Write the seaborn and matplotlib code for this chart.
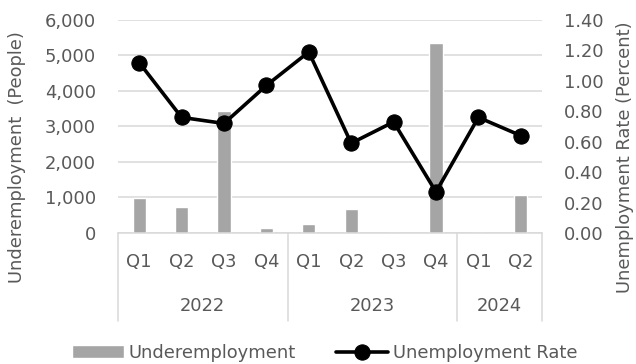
import matplotlib
matplotlib.use("Agg")
import matplotlib.pyplot as plt
import matplotlib.transforms as mtransforms
import seaborn as sns
import pandas as pd
import numpy as np

quarters = ["Q1", "Q2", "Q3", "Q4", "Q1", "Q2", "Q3", "Q4", "Q1", "Q2"]
years = ["2022", "2022", "2022", "2022", "2023", "2023", "2023", "2023", "2024", "2024"]
underemployment = [980, 740, 3440, 150, 260, 690, 0, 5360, 0, 1070]
unemployment_rate = [1.12, 0.76, 0.72, 0.97, 1.19, 0.59, 0.73, 0.27, 0.76, 0.64]
left_ticks = [0, 1000, 2000, 3000, 4000, 5000, 6000]
right_ticks = [0.0, 0.2, 0.4, 0.6, 0.8, 1.0, 1.2, 1.4]

sns.set_theme(style="white")
plt.rcParams["font.family"] = ["DejaVu Sans"]

TXT = "#595959"
GRID = "#d9d9d9"
FS = 12.9

df = pd.DataFrame({
    "cat": [f"{y}-{q}" for y, q in zip(years, quarters)],
    "under": underemployment,
    "rate": unemployment_rate,
    "pos": np.arange(len(quarters)),
})

fig = plt.figure(figsize=(6.36, 3.64), dpi=100)
W, H = 636, 364
ax = fig.add_axes([118 / W, 1 - 233 / H, (542 - 118) / W, (233 - 20) / H])

sns.barplot(data=df, x="cat", y="under", color="#a5a5a5", width=0.31,
            saturation=1, ax=ax, label="Underemployment", zorder=2)
if ax.get_legend() is not None:
    ax.get_legend().remove()
ax.set_xlim(-0.5, len(quarters) - 0.5)
ax.set_ylim(0, 6000)
ax.set_yticks(left_ticks)
ax.set_yticklabels([f"{v:,}" for v in left_ticks])
ax.yaxis.grid(True, color=GRID, linewidth=1.1, zorder=0)
ax.set_axisbelow(True)
for s in ["top", "left", "right"]:
    ax.spines[s].set_visible(False)
ax.spines["bottom"].set_color(GRID)
ax.spines["bottom"].set_linewidth(1.1)
ax.set_xticks([])
ax.set_xlabel("")
ax.set_ylabel("")
ax.tick_params(axis="y", length=0, pad=16, labelsize=FS, labelcolor=TXT)

ax2 = ax.twinx()
sns.lineplot(data=df, x="pos", y="rate", color="black", linewidth=2.6,
             marker="o", markersize=11.5, markeredgecolor="black",
             ax=ax2, label="Unemployment Rate", legend=False, zorder=3)
if ax2.get_legend() is not None:
    ax2.get_legend().remove()
ax2.set_xlim(-0.5, len(quarters) - 0.5)
ax2.set_ylim(0, 1.4)
ax2.set_yticks(right_ticks)
ax2.set_yticklabels([f"{v:.2f}" for v in right_ticks])
for s in ["top", "left", "right", "bottom"]:
    ax2.spines[s].set_visible(False)
ax2.grid(False)
ax2.set_xlabel("")
ax2.set_ylabel("")
ax2.tick_params(axis="y", length=0, pad=16, labelsize=FS, labelcolor=TXT)

# multi-level category axis
trans = mtransforms.blended_transform_factory(ax.transData, fig.transFigure)
def fy(py):
    return 1 - py / H
for i, q in enumerate(quarters):
    ax.text(i, fy(262), q, transform=trans, ha="center", va="center",
            fontsize=FS, color=TXT, clip_on=False)
groups = []
for i, y in enumerate(years):
    if not groups or groups[-1][0] != y:
        groups.append([y, i, i])
    else:
        groups[-1][2] = i
bounds = [-0.5] + [g[2] + 0.5 for g in groups]
for b in bounds:
    ax.plot([b, b], [fy(233), fy(321)], transform=trans, color=GRID,
            linewidth=1.1, clip_on=False)
for y, a, b in groups:
    ax.text((a + b) / 2, fy(306), y, transform=trans, ha="center", va="center",
            fontsize=FS, color=TXT, clip_on=False)

fig.text(17 / W, fy(157), "Underemployment  (People)", rotation=90,
         ha="center", va="center", fontsize=FS, color=TXT)
fig.text(625 / W, fy(157), "Unemployment Rate (Percent)", rotation=90,
         ha="center", va="center", fontsize=FS, color=TXT)

h1, l1 = ax.get_legend_handles_labels()
h2, l2 = ax2.get_legend_handles_labels()
for h in h2:
    h.set_markersize(11)
leg = fig.legend(h1 + h2, l1 + l2, loc="center left", ncol=2,
                 bbox_to_anchor=(72 / W, fy(353)), frameon=False,
                 borderpad=0, borderaxespad=0,
                 fontsize=FS, handlelength=2.9, handletextpad=0.28,
                 columnspacing=2.2, labelcolor=TXT)

fig.savefig("out.png", dpi=100)
